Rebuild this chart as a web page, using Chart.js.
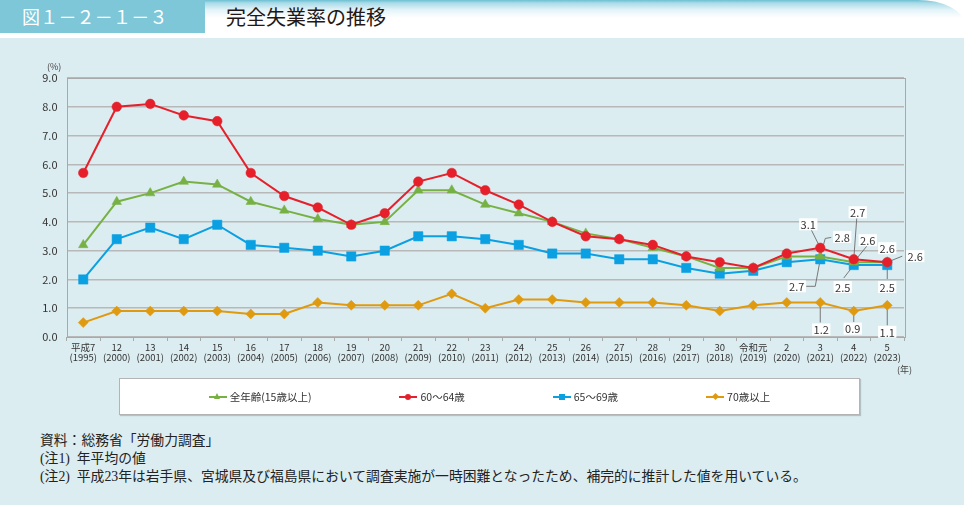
<!DOCTYPE html>
<html lang="ja">
<head>
<meta charset="utf-8">
<script src="https://cdn.jsdelivr.net/npm/chart.js@4.4.1/dist/chart.umd.min.js"></script>
<style>
html,body{margin:0;padding:0}
body{width:964px;height:505px;position:relative;background:#dcedf1;font-family:"Noto Sans CJK JP","Noto Sans",sans-serif;overflow:hidden}
#topwhite{position:absolute;left:0;top:0;width:964px;height:38px;background:#fff}
#header{position:absolute;left:0;top:0;width:964px;height:38px;background:linear-gradient(to bottom,#6cbfd3 0px,#a9dbe8 3px,#e3f4f8 10px,#ffffff 18px);border-top-right-radius:46px 24px}
#fig{position:absolute;left:0;top:0;width:205px;height:33px;background:#7dc7d9;color:#fff;font-size:18px;line-height:33px;padding-left:22px;box-sizing:border-box;letter-spacing:0.2px}
#title{position:absolute;left:226px;top:0;height:33px;line-height:33px;font-size:20px;color:#231815}
#chartbox{position:absolute;left:0;top:40px;width:964px;height:340px}
#pct{position:absolute;left:47px;top:60px;font-size:9px;color:#444}
#nen{position:absolute;left:897px;top:363px;font-size:9px;color:#444}
#legend{position:absolute;left:119px;top:378px;width:741px;height:37px;box-sizing:border-box;background:#fff;border:1px solid #b4b4b4;box-shadow:1px 1px 1px rgba(0,0,0,0.18);display:flex;justify-content:center;align-items:center;gap:88px;font-size:10.5px;color:#333}
.item{display:flex;align-items:center}
.icon{position:relative;width:18px;height:10px;margin-right:3px}
.icon .ln{position:absolute;left:0;top:4px;width:18px;height:2px}
.icon .mk{position:absolute}
#notes{position:absolute;left:40px;top:432px;font-size:13.8px;line-height:18px;color:#222;font-family:"Liberation Serif","Noto Sans CJK JP",serif;white-space:pre}
</style>
</head>
<body>
<div id="topwhite"></div>
<div id="header"><div id="fig">図１－２－１－３</div><div id="title">完全失業率の推移</div></div>
<div id="chartbox"><canvas id="c" width="964" height="340"></canvas></div>
<div id="pct">(%)</div>
<div id="nen">(年)</div>
<div id="legend"></div>
<div id="notes">資料：総務省「労働力調査」
(注1)  年平均の値
(注2)  平成23年は岩手県、宮城県及び福島県において調査実施が一時困難となったため、補完的に推計した値を用いている。</div>
<script>
// ---- data ----
const eraLabels = ["平成7","12","13","14","15","16","17","18","19","20","21","22","23","24","25","26","27","28","29","30","令和元","2","3","4","5"];
const westernYears = [1995,2000,2001,2002,2003,2004,2005,2006,2007,2008,2009,2010,2011,2012,2013,2014,2015,2016,2017,2018,2019,2020,2021,2022,2023];
const seriesNames = ["全年齢(15歳以上)","60～64歳","65～69歳","70歳以上"];
const allAges   = [3.2,4.7,5.0,5.4,5.3,4.7,4.4,4.1,3.9,4.0,5.1,5.1,4.6,4.3,4.0,3.6,3.4,3.1,2.8,2.4,2.4,2.8,2.8,2.6,2.6];
const age60to64 = [5.7,8.0,8.1,7.7,7.5,5.7,4.9,4.5,3.9,4.3,5.4,5.7,5.1,4.6,4.0,3.5,3.4,3.2,2.8,2.6,2.4,2.9,3.1,2.7,2.6];
const age65to69 = [2.0,3.4,3.8,3.4,3.9,3.2,3.1,3.0,2.8,3.0,3.5,3.5,3.4,3.2,2.9,2.9,2.7,2.7,2.4,2.2,2.3,2.6,2.7,2.5,2.5];
const age70plus = [0.5,0.9,0.9,0.9,0.9,0.8,0.8,1.2,1.1,1.1,1.1,1.5,1.0,1.3,1.3,1.2,1.2,1.2,1.1,0.9,1.1,1.2,1.2,0.9,1.1];
const yTicks = [0,1,2,3,4,5,6,7,8,9];

// ---- styles ----
const colors = ["#77b144","#e5202b","#0aa0e2","#df9a10"];
const pointStyles = ["triangle","circle","rect","rectRot"];
const pointRadii = [5.5,4.8,6.6,5];
const drawOrder = [1,0,2,3];
const seriesData = [allAges, age60to64, age65to69, age70plus];

// callouts: dataset index, category index, text offset, leader path (relative to point)
const callouts = [
  {ds:1,i:22,t:[-12,-23.5],p:[[-9,-18]]},
  {ds:0,i:22,t:[22,-19.5],p:[[5,-18],[11,-19]]},
  {ds:2,i:22,t:[-23.5,27],p:[[-5,27],[-14,27]]},
  {ds:1,i:23,t:[4,-47],p:[[3,-41]]},
  {ds:0,i:23,t:[14,-22],p:[[13,-16]]},
  {ds:2,i:23,t:[-11,22],p:[[-10,13]]},
  {ds:0,i:24,t:[0,-14],p:[]},
  {ds:1,i:24,t:[28,-6],p:[[15,-6]]},
  {ds:2,i:24,t:[0,22],p:[[0,14]]},
  {ds:3,i:22,t:[1,27],p:[[0,20]]},
  {ds:3,i:23,t:[-1,17.5],p:[[0,11]]},
  {ds:3,i:24,t:[0,26.5],p:[[0,20]]}
];

const FONT = "'Noto Sans CJK JP','Noto Sans',sans-serif";
Chart.defaults.font.family = FONT;

const labels = eraLabels.map((e,k)=>[e,"("+westernYears[k]+")"]);

const frame = {
  id:'frame',
  beforeDatasetsDraw(chart){
    const {ctx, chartArea:a} = chart;
    ctx.save();
    ctx.strokeStyle = '#a9a9a9';
    ctx.lineWidth = 1;
    ctx.strokeRect(Math.round(a.left)+0.5, Math.round(a.top)+0.5, Math.round(a.right-a.left), Math.round(a.bottom-a.top));
    ctx.strokeStyle = '#6a6a6a';
    ctx.lineWidth = 0.9;
    callouts.forEach(c=>{
      const pt = chart.getDatasetMeta(c.ds).data[c.i];
      if(!c.p.length) return;
      ctx.beginPath();
      ctx.moveTo(pt.x, pt.y);
      c.p.forEach(q=>ctx.lineTo(pt.x+q[0], pt.y+q[1]));
      ctx.stroke();
    });
    ctx.restore();
  },
  afterDatasetsDraw(chart){
    const ctx = chart.ctx;
    ctx.save();
    ctx.font = "11px " + FONT;
    ctx.textAlign = 'center';
    ctx.textBaseline = 'middle';
    callouts.forEach(c=>{
      const pt = chart.getDatasetMeta(c.ds).data[c.i];
      const txt = seriesData[c.ds][c.i].toFixed(1);
      const x = pt.x + c.t[0], y = pt.y + c.t[1];
      const w = ctx.measureText(txt).width;
      ctx.fillStyle = '#fff';
      ctx.fillRect(x - w/2 - 1.5, y - 6, w + 3, 12);
      ctx.fillStyle = '#333';
      ctx.fillText(txt, x, y + 0.5);
    });
    ctx.restore();
  }
};

new Chart(document.getElementById('c'), {
  type:'line',
  data:{
    labels: labels,
    datasets: seriesNames.map((n,k)=>({
      label:n,
      data:seriesData[k],
      borderColor:colors[k],
      backgroundColor:colors[k],
      pointBackgroundColor:colors[k],
      pointBorderColor:colors[k],
      pointBorderWidth:0.5,
      pointStyle:pointStyles[k],
      pointRadius:pointRadii[k],
      borderWidth:2,
      tension:0,
      fill:false,
      order:drawOrder[k],
      clip:false
    }))
  },
  options:{
    responsive:false,
    animation:false,
    devicePixelRatio:1,
    layout:{padding:{top:38,right:60,bottom:0,left:0}},
    plugins:{legend:{display:false},tooltip:{enabled:false}},
    scales:{
      x:{
        offset:true,
        afterFit(s){ s.height = 43; },
        grid:{display:true,drawOnChartArea:false,drawTicks:true,tickLength:4,color:'#a9a9a9',offset:true},
        border:{display:false},
        ticks:{autoSkip:false,maxRotation:0,minRotation:0,padding:1,color:'#333',font:{size:9.5,lineHeight:1.1}}
      },
      y:{
        min:0,max:9,
        afterFit(s){ s.width = 66.5; },
        afterBuildTicks(s){ s.ticks = yTicks.map(v=>({value:v})); },
        grid:{color:'#b8b8b8',lineWidth:1.5,drawTicks:false},
        border:{display:false},
        ticks:{padding:9,color:'#333',font:{size:11},callback:v=>Number(v).toFixed(1)}
      }
    }
  },
  plugins:[frame]
});

// legend (HTML)
const lg = document.getElementById('legend');
seriesNames.forEach((n,k)=>{
  const it = document.createElement('span'); it.className='item';
  const ic = document.createElement('span'); ic.className='icon';
  const ln = document.createElement('span'); ln.className='ln'; ln.style.background=colors[k];
  const mk = document.createElement('span'); mk.className='mk';
  const s = pointStyles[k];
  if(s==='triangle'){ Object.assign(mk.style,{left:'5.5px',top:'1.5px',width:'0',height:'0',borderLeft:'3.5px solid transparent',borderRight:'3.5px solid transparent',borderBottom:'6px solid '+colors[k]}); }
  else if(s==='circle'){ Object.assign(mk.style,{left:'6px',top:'2px',width:'6px',height:'6px',borderRadius:'50%',background:colors[k]}); }
  else if(s==='rect'){ Object.assign(mk.style,{left:'6px',top:'2px',width:'6px',height:'6px',background:colors[k]}); }
  else { Object.assign(mk.style,{left:'6.5px',top:'2.5px',width:'5px',height:'5px',background:colors[k],transform:'rotate(45deg)'}); }
  ic.appendChild(ln); ic.appendChild(mk);
  const tx = document.createElement('span'); tx.textContent = n;
  it.appendChild(ic); it.appendChild(tx);
  lg.appendChild(it);
});
</script>
</body>
</html>
